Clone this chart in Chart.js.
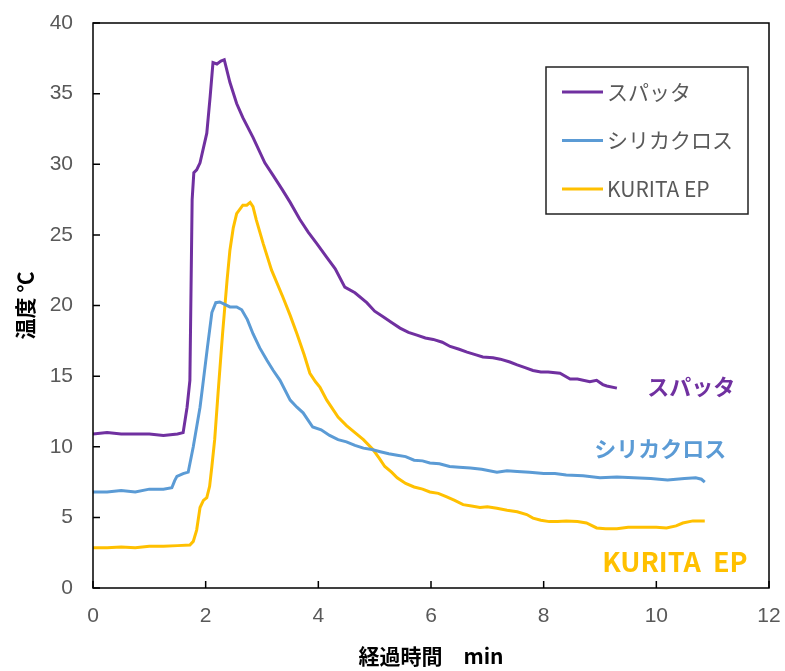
<!DOCTYPE html>
<html>
<head>
<meta charset="utf-8">
<script src="https://cdn.jsdelivr.net/npm/chart.js@4.4.1/dist/chart.umd.min.js"></script>
<style>
  html, body { margin: 0; padding: 0; background: #fff; }
  #wrap { width: 785px; height: 671px; }
</style>
</head>
<body>
<div id="wrap"><canvas id="tempChart" width="785" height="671"></canvas></div>
<script>
// データ (経過時間 min / 温度 ℃)
const seriesNames = ['スパッタ', 'シリカクロス', 'KURITA EP'];
const seriesColors = ['#7030A0', '#5B9BD5', '#FFC000'];

const sputterT = [0, 0.25, 0.5, 0.75, 1.0, 1.25, 1.5, 1.6, 1.67, 1.72, 1.76, 1.79, 1.84, 1.9, 2.02, 2.08, 2.13, 2.2, 2.27, 2.33, 2.43, 2.55, 2.66, 2.84, 3.05, 3.2, 3.36, 3.5, 3.67, 3.82, 3.97, 4.15, 4.3, 4.47, 4.65, 4.86, 5.0, 5.15, 5.3, 5.45, 5.6, 5.75, 5.9, 6.04, 6.2, 6.34, 6.5, 6.64, 6.8, 6.92, 7.1, 7.23, 7.4, 7.53, 7.67, 7.81, 7.95, 8.08, 8.29, 8.47, 8.6, 8.82, 8.94, 9.05, 9.12, 9.3];
const sputterV = [10.9, 11.0, 10.9, 10.9, 10.9, 10.8, 10.9, 11.0, 12.8, 14.7, 27.5, 29.4, 29.6, 30.1, 32.2, 34.8, 37.2, 37.1, 37.3, 37.4, 35.8, 34.3, 33.3, 31.9, 30.1, 29.2, 28.2, 27.3, 26.1, 25.2, 24.4, 23.4, 22.6, 21.3, 20.9, 20.2, 19.6, 19.2, 18.8, 18.4, 18.1, 17.9, 17.7, 17.6, 17.4, 17.1, 16.9, 16.7, 16.5, 16.35, 16.3, 16.2, 16.0, 15.8, 15.6, 15.4, 15.3, 15.3, 15.2, 14.8, 14.8, 14.6, 14.7, 14.4, 14.3, 14.15];

const silicaT = [0, 0.25, 0.5, 0.75, 1.0, 1.25, 1.4, 1.45, 1.49, 1.6, 1.69, 1.78, 1.9, 1.95, 2.03, 2.11, 2.18, 2.25, 2.33, 2.43, 2.55, 2.64, 2.74, 2.84, 2.96, 3.09, 3.2, 3.32, 3.5, 3.62, 3.73, 3.9, 4.05, 4.2, 4.35, 4.5, 4.65, 4.8, 4.95, 5.1, 5.25, 5.4, 5.55, 5.7, 5.85, 5.98, 6.15, 6.33, 6.5, 6.7, 6.9, 7.17, 7.35, 7.53, 7.75, 8.0, 8.2, 8.4, 8.7, 9.0, 9.3, 9.6, 9.9, 10.2, 10.5, 10.7, 10.8, 10.86];
const silicaV = [6.8, 6.8, 6.9, 6.8, 7.0, 7.0, 7.1, 7.6, 7.9, 8.1, 8.2, 10.0, 12.8, 14.4, 17.0, 19.5, 20.2, 20.25, 20.1, 19.9, 19.9, 19.7, 19.0, 18.0, 17.0, 16.1, 15.4, 14.7, 13.3, 12.8, 12.4, 11.4, 11.2, 10.8, 10.5, 10.35, 10.1, 9.9, 9.8, 9.65, 9.5, 9.4, 9.3, 9.05, 9.0, 8.85, 8.8, 8.6, 8.55, 8.5, 8.4, 8.2, 8.3, 8.25, 8.2, 8.1, 8.1, 8.0, 7.95, 7.8, 7.85, 7.8, 7.75, 7.65, 7.75, 7.8, 7.7, 7.5];

const kuritaT = [0, 0.25, 0.5, 0.75, 1.0, 1.25, 1.5, 1.72, 1.78, 1.84, 1.9, 1.96, 2.02, 2.07, 2.11, 2.16, 2.22, 2.3, 2.38, 2.43, 2.49, 2.55, 2.66, 2.73, 2.79, 2.84, 2.9, 3.02, 3.17, 3.37, 3.5, 3.62, 3.75, 3.85, 3.95, 4.03, 4.15, 4.35, 4.5, 4.65, 4.8, 4.97, 5.08, 5.18, 5.3, 5.4, 5.55, 5.7, 5.85, 5.98, 6.13, 6.28, 6.42, 6.57, 6.72, 6.87, 7.0, 7.17, 7.35, 7.53, 7.7, 7.81, 7.95, 8.1, 8.25, 8.4, 8.6, 8.76, 8.94, 9.1, 9.3, 9.5, 9.77, 10.0, 10.18, 10.35, 10.47, 10.65, 10.86];
const kuritaV = [2.85, 2.85, 2.9, 2.85, 2.95, 2.95, 3.0, 3.05, 3.3, 4.1, 5.7, 6.2, 6.4, 7.2, 8.6, 10.5, 13.8, 18.0, 21.8, 23.9, 25.5, 26.5, 27.1, 27.1, 27.3, 27.0, 26.05, 24.4, 22.5, 20.6, 19.3, 18.0, 16.5, 15.2, 14.6, 14.2, 13.3, 12.1, 11.5, 11.0, 10.5, 9.8, 9.2, 8.6, 8.2, 7.8, 7.4, 7.15, 7.0, 6.8, 6.7, 6.45, 6.2, 5.9, 5.8, 5.7, 5.75, 5.65, 5.5, 5.4, 5.2, 4.95, 4.8, 4.7, 4.7, 4.75, 4.7, 4.6, 4.25, 4.2, 4.2, 4.3, 4.3, 4.3, 4.25, 4.4, 4.6, 4.75, 4.75];

const xTicks = [0, 2, 4, 6, 8, 10, 12];
const yTicks = [0, 5, 10, 15, 20, 25, 30, 35, 40];

// 系列ラベル (グラフ内の注記): [x, y]
const labelText = ['スパッタ', 'シリカクロス', 'KURITA  EP'];
const labelPos = [[10.62, 14.25], [10.07, 9.9], [10.33, 1.85]];

const tickFont = { family: 'Liberation Sans', size: 21 };
const jpFont = '"Noto Sans CJK JP", sans-serif';

function toPoints(ts, vs) {
    return ts.map((t, i) => ({ x: t, y: vs[i] }));
}

// 内向き目盛・枠線・凡例・注記
const framePlugin = {
    id: 'frame',
    afterDatasetsDraw(chart) {
        const ctx = chart.ctx;
        const a = chart.chartArea;
        const sx = chart.scales.x, sy = chart.scales.y;
        ctx.save();
        ctx.strokeStyle = '#000';
        ctx.lineWidth = 1.5;
        ctx.strokeRect(a.left, a.top, a.right - a.left, a.bottom - a.top);
        ctx.beginPath();
        xTicks.forEach(v => {
            const px = sx.getPixelForValue(v);
            ctx.moveTo(px, a.bottom);
            ctx.lineTo(px, a.bottom - 7);
        });
        yTicks.forEach(v => {
            const py = sy.getPixelForValue(v);
            ctx.moveTo(a.left, py);
            ctx.lineTo(a.left + 7, py);
        });
        ctx.stroke();

        // 凡例
        ctx.lineWidth = 1.5;
        ctx.strokeStyle = '#222';
        ctx.fillStyle = '#fff';
        ctx.fillRect(546, 67, 202, 147);
        ctx.strokeRect(546, 67, 202, 147);
        chart.data.datasets.forEach((ds, i) => {
            const y = 92 + i * 48.5;
            ctx.strokeStyle = ds.borderColor;
            ctx.lineWidth = 3;
            ctx.beginPath();
            ctx.moveTo(562, y);
            ctx.lineTo(603, y);
            ctx.stroke();
            ctx.fillStyle = '#595959';
            ctx.font = '21px ' + jpFont;
            ctx.textBaseline = 'middle';
            ctx.textAlign = 'left';
            ctx.fillText(ds.label, 607, y);
        });

        // 注記
        ctx.textAlign = 'center';
        ctx.textBaseline = 'middle';
        labelText.forEach((txt, i) => {
            const px = sx.getPixelForValue(labelPos[i][0]);
            const py = sy.getPixelForValue(labelPos[i][1]);
            ctx.fillStyle = seriesColors[i];
            ctx.font = 'bold ' + (i === 2 ? 27 : 22) + 'px ' + jpFont;
            ctx.fillText(txt, px, py);
        });
        ctx.restore();
    }
};

const ctxT = document.getElementById('tempChart').getContext('2d');
const tempChart = new Chart(ctxT, {
    type: 'line',
    data: {
        datasets: [
            { label: seriesNames[0], data: toPoints(sputterT, sputterV), borderColor: seriesColors[0] },
            { label: seriesNames[1], data: toPoints(silicaT, silicaV), borderColor: seriesColors[1] },
            { label: seriesNames[2], data: toPoints(kuritaT, kuritaV), borderColor: seriesColors[2] }
        ].map(d => Object.assign(d, { borderWidth: 3, pointRadius: 0, tension: 0, fill: false }))
    },
    options: {
        responsive: false,
        devicePixelRatio: 1,
        animation: false,
        layout: { padding: { top: 23, right: 16, left: 0, bottom: 0 } },
        plugins: { legend: { display: false }, tooltip: { enabled: false } },
        scales: {
            x: {
                type: 'linear', min: 0, max: 12,
                afterBuildTicks: s => { s.ticks = xTicks.map(v => ({ value: v })); },
                afterFit: s => { s.height = 83; s.paddingLeft = 0; s.paddingRight = 0; },
                ticks: { color: '#595959', font: tickFont, padding: 16, maxRotation: 0 },
                grid: { drawOnChartArea: false, drawTicks: false },
                border: { display: false },
                title: { display: true, text: '経過時間\u3000min', color: '#000',
                         font: { family: jpFont, size: 21, weight: 'bold' }, padding: { top: 0, bottom: 2 } }
            },
            y: {
                min: 0, max: 40,
                afterBuildTicks: s => { s.ticks = yTicks.map(v => ({ value: v })); },
                afterFit: s => { s.width = 93; s.paddingTop = 0; s.paddingBottom = 0; },
                ticks: { color: '#595959', font: tickFont, padding: 20 },
                grid: { drawOnChartArea: false, drawTicks: false },
                border: { display: false },
                title: { display: true, text: '温度 ℃', color: '#000',
                         font: { family: jpFont, size: 21, weight: 'bold' }, padding: { top: 12, bottom: 0 } }
            }
        }
    },
    plugins: [framePlugin]
});
</script>
</body>
</html>
